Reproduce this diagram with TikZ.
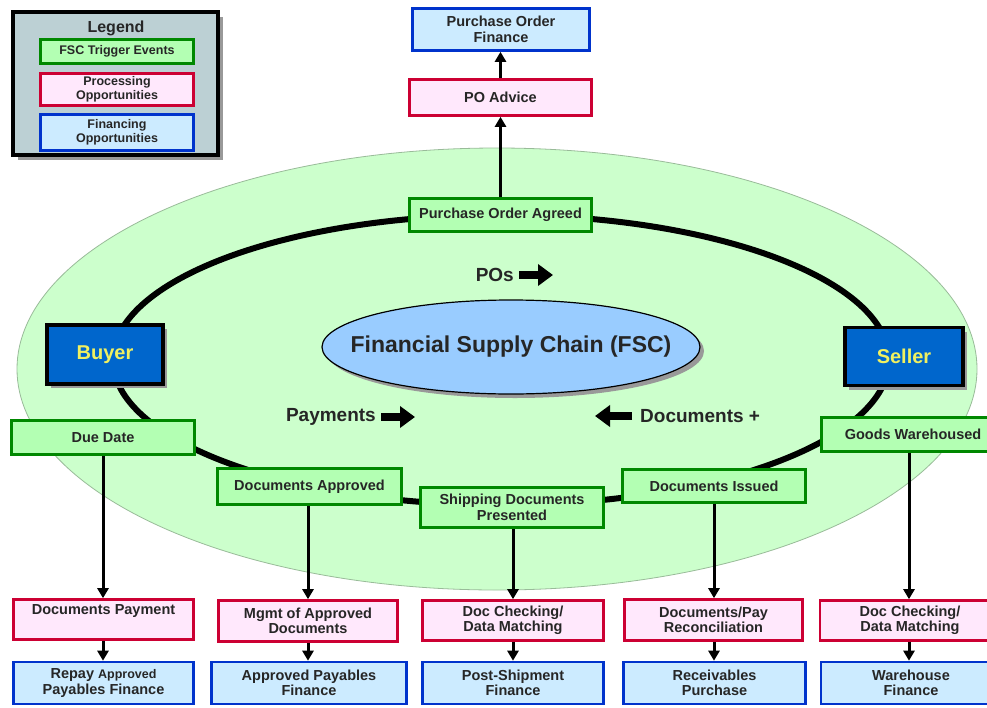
\documentclass[tikz,border=0pt]{standalone}
\usepackage{fontspec}
\setmainfont{Liberation Sans}
\usetikzlibrary{arrows.meta,shadows,shapes.geometric}
\definecolor{ellf}{HTML}{CCFFCC}
\definecolor{elld}{HTML}{99BB99}
\definecolor{trigc}{HTML}{008800}
\definecolor{trigf}{HTML}{B3FFB3}
\definecolor{procc}{HTML}{CC0033}
\definecolor{procf}{HTML}{FFE8FC}
\definecolor{finc}{HTML}{0033CC}
\definecolor{finf}{HTML}{CCEBFF}
\definecolor{txt}{HTML}{262626}
\definecolor{partyf}{HTML}{0066CC}
\definecolor{partyt}{HTML}{F0F060}
\definecolor{fscf}{HTML}{99CCFF}
\definecolor{legf}{HTML}{BCD0D4}
\newcommand\myfs[1]{\fontsize{#1}{#1}\selectfont}
\begin{document}
\begin{tikzpicture}[x=1pt,y=-1pt,
  bx/.style={rectangle, line width=2.6pt, inner sep=0pt, align=center, text=txt,
    font=\bfseries\fontsize{14.5}{15.5}\selectfont},
  sz/.style 2 args={minimum width=#1, minimum height=#2},
  trig/.style={bx, draw=trigc, fill=trigf},
  proc/.style={bx, draw=procc, fill=procf},
  fin/.style={bx, draw=finc, fill=finf},
  party/.style={rectangle, draw=black, line width=3.5pt, fill=partyf, text=partyt,
    font=\bfseries\myfs{20}, inner sep=0pt,
    drop shadow={fill=black!40, opacity=1, shadow xshift=4pt, shadow yshift=-4pt}},
  conn/.style={line width=3pt, -{Triangle[length=10pt,width=11pt]}},
  bigarr/.style={line width=8pt, -{Triangle[length=15pt,width=21pt]}},
  lbl/.style={font=\bfseries\myfs{19}, text=txt, inner sep=0pt}
]
\useasboundingbox (0,0) rectangle (987,707);
\clip (0,0) rectangle (987,707);
\fill[white] (0,0) rectangle (987,707);

% big green ellipse and ring
\draw[fill=ellf, draw=elld, line width=0.8pt] (497,369) ellipse [x radius=480, y radius=221];
\draw[line width=6pt] (501,360) ellipse [x radius=388, y radius=145];

% central ellipse
\node[ellipse, draw=black, line width=1.2pt, fill=fscf, minimum width=378, minimum height=94,
  inner sep=0pt,
  drop shadow={fill=black!40, opacity=1, shadow xshift=4pt, shadow yshift=-4pt}]
  (fsc) at (511,347) {};
\node[font=\bfseries\myfs{23}, text=txt, inner sep=0pt] (fsct) at (fsc.center) {Financial Supply Chain (FSC)};

% legend
\node[rectangle, draw=black, line width=4pt, fill=legf, sz={205}{143},
  drop shadow={fill=black!40, opacity=1, shadow xshift=5pt, shadow yshift=-5pt}]
  (leg) at (115,83.5) {};
\node[font=\bfseries\myfs{16}, text=txt] (legt) at (116,28) {Legend};
\node[trig, sz={153}{24}, font=\bfseries\myfs{12.5}] (l1) at (117,51.5) {FSC Trigger Events};
\node[proc, sz={153}{32}, font=\bfseries\fontsize{12.5}{14}\selectfont] (l2) at (117,89.5) {Processing\\Opportunities};
\node[fin, sz={153}{36}, font=\bfseries\fontsize{12.5}{14}\selectfont] (l3) at (117,132.5) {Financing\\Opportunities};

% parties
\node[party, sz={116}{59}] (buyer) at (105,354.5) {Buyer};
\node[party, sz={118}{58}] (seller) at (904,356.5) {Seller};

% trigger events
\node[trig, sz={182}{33}] (poa) at (500.5,215) {Purchase Order Agreed};
\node[trig, sz={183}{34}] (dd) at (103,437.5) {Due Date};
\node[trig, sz={184}{36}] (da) at (309.5,486.5) {Documents Approved};
\node[trig, sz={183}{40}] (sdp) at (512,507.5) {Shipping Documents\\Presented};
\node[trig, sz={183}{33}] (di) at (714,486) {Documents Issued};
\node[trig, sz={183}{34}] (gw) at (913,434.5) {Goods Warehoused};

% processing
\node[proc, sz={182}{36}] (poadv) at (500.5,97.5) {PO Advice};
\node[proc, sz={180}{40}] (dp) at (103.5,619.5) {Documents Payment\\[4pt]};
\node[proc, sz={179}{41}] (mad) at (308,621) {Mgmt of Approved\\Documents};
\node[proc, sz={181}{40}] (dcm1) at (513,620.5) {Doc Checking/\\Data Matching};
\node[proc, sz={178}{41}] (dpr) at (713.5,620) {Documents/Pay\\Reconciliation};
\node[proc, sz={180}{40}] (dcm2) at (910,620.5) {Doc Checking/\\Data Matching};

% financing
\node[fin, sz={177}{42}] (pof) at (501,29.5) {Purchase Order\\Finance};
\node[fin, sz={180}{42}] (rapf) at (103.5,683) {Repay {\myfs{12.5}Approved}\\Payables Finance};
\node[fin, sz={195}{42}] (apf) at (309,683) {Approved Payables\\Finance};
\node[fin, sz={181}{42}] (psf) at (513,683) {Post-Shipment\\Finance};
\node[fin, sz={182}{42}] (rp) at (714.5,683) {Receivables\\Purchase};
\node[fin, sz={180}{42}] (wf) at (911,683) {Warehouse\\Finance};

% vertical connectors
\draw[conn] (poa.north) -- (poa.north |- poadv.south);
\draw[conn] (poadv.north) -- (poadv.north |- pof.south);
\draw[conn] (dd.south) -- (dd.south |- dp.north);
\draw[conn] (dd.south |- dp.south) -- (dd.south |- rapf.north);
\draw[conn] (mad.north |- da.south) -- (mad.north);
\draw[conn] (mad.south) -- (mad.south |- apf.north);
\draw[conn] (dcm1.north |- sdp.south) -- (dcm1.north);
\draw[conn] (dcm1.south) -- (dcm1.south |- psf.north);
\draw[conn] (di.south) -- (di.south |- dpr.north);
\draw[conn] (di.south |- dpr.south) -- (di.south |- rp.north);
\draw[conn] ([xshift=-1pt]dcm2.north |- gw.south) -- ([xshift=-1pt]dcm2.north);
\draw[conn] ([xshift=-1pt]dcm2.south) -- ([xshift=-1pt]dcm2.south |- wf.north);

% flow labels
\node[lbl, anchor=east] (pos) at (514,275) {POs};
\coordinate (posE) at (553,275);
\draw[bigarr] ([xshift=5pt]pos.east) -- (posE);
\node[lbl, anchor=east] (pay) at (376,417) {Payments};
\coordinate (payE) at (415,417);
\draw[bigarr] ([xshift=5pt]pay.east) -- (payE);
\node[lbl, anchor=west] (docs) at (640,416) {Documents +};
\coordinate (docsE) at (595,416);
\draw[bigarr] ([xshift=-8pt]docs.west) -- (docsE);
\end{tikzpicture}
\end{document}
